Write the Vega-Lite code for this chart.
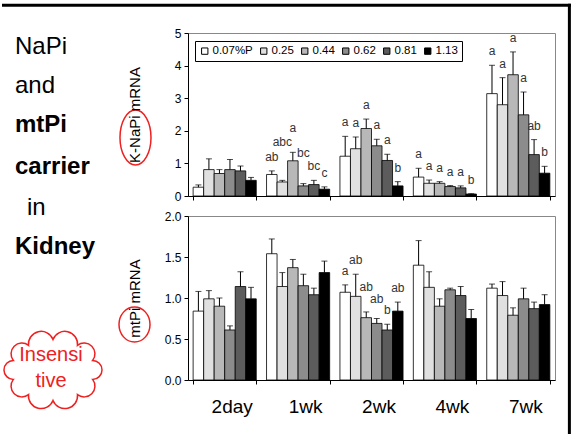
{
  "$schema": "https://vega.github.io/schema/vega-lite/v6.json",
  "padding": 0,
  "bounds": "flush",
  "spacing": 0,
  "config": {
    "font": "Liberation Sans",
    "view": {"stroke": "#888888"},
    "axis": {"domainColor": "black", "tickColor": "black", "labelColor": "black", "titleColor": "black", "grid": false, "tickSize": 4, "labelPadding": 3, "titleFontWeight": "normal", "labelFont": "Liberation Sans", "titleFont": "Liberation Sans"},
    "axisY": {"labelOverlap": false, "labelBound": false, "labelFlush": false},
    "legend": {"labelFont": "Liberation Sans"}
  },
  "datasets": {
    "napi": [
      {"week": "2day", "dose": "0.07%P", "v": 0.27, "err": 0.34, "sig": ""},
      {"week": "2day", "dose": "0.25", "v": 0.81, "err": 1.14, "sig": ""},
      {"week": "2day", "dose": "0.44", "v": 0.69, "err": 0.81, "sig": ""},
      {"week": "2day", "dose": "0.62", "v": 0.81, "err": 1.12, "sig": ""},
      {"week": "2day", "dose": "0.81", "v": 0.77, "err": 0.92, "sig": ""},
      {"week": "2day", "dose": "1.13", "v": 0.48, "err": 0.57, "sig": ""},
      {"week": "1wk", "dose": "0.07%P", "v": 0.66, "err": 0.77, "sig": "ab"},
      {"week": "1wk", "dose": "0.25", "v": 0.43, "err": 0.48, "sig": "abc"},
      {"week": "1wk", "dose": "0.44", "v": 1.08, "err": 1.34, "sig": "a"},
      {"week": "1wk", "dose": "0.62", "v": 0.31, "err": 0.38, "sig": "bc"},
      {"week": "1wk", "dose": "0.81", "v": 0.35, "err": 0.48, "sig": "bc"},
      {"week": "1wk", "dose": "1.13", "v": 0.21, "err": 0.28, "sig": "c"},
      {"week": "2wk", "dose": "0.07%P", "v": 1.22, "err": 1.83, "sig": "a"},
      {"week": "2wk", "dose": "0.25", "v": 1.45, "err": 1.81, "sig": "a"},
      {"week": "2wk", "dose": "0.44", "v": 2.07, "err": 2.36, "sig": "a"},
      {"week": "2wk", "dose": "0.62", "v": 1.54, "err": 1.74, "sig": "a"},
      {"week": "2wk", "dose": "0.81", "v": 1.09, "err": 1.28, "sig": "a"},
      {"week": "2wk", "dose": "1.13", "v": 0.31, "err": 0.44, "sig": "b"},
      {"week": "4wk", "dose": "0.07%P", "v": 0.58, "err": 0.85, "sig": "a"},
      {"week": "4wk", "dose": "0.25", "v": 0.39, "err": 0.49, "sig": "a"},
      {"week": "4wk", "dose": "0.44", "v": 0.39, "err": 0.44, "sig": "a"},
      {"week": "4wk", "dose": "0.62", "v": 0.29, "err": 0.32, "sig": "a"},
      {"week": "4wk", "dose": "0.81", "v": 0.25, "err": 0.31, "sig": "a"},
      {"week": "4wk", "dose": "1.13", "v": 0.06, "err": 0.07, "sig": "b"},
      {"week": "7wk", "dose": "0.07%P", "v": 3.14, "err": 4.01, "sig": "a"},
      {"week": "7wk", "dose": "0.25", "v": 2.8, "err": 3.63, "sig": "a"},
      {"week": "7wk", "dose": "0.44", "v": 3.72, "err": 4.42, "sig": "a"},
      {"week": "7wk", "dose": "0.62", "v": 2.49, "err": 3.19, "sig": "a"},
      {"week": "7wk", "dose": "0.81", "v": 1.27, "err": 1.73, "sig": "ab"},
      {"week": "7wk", "dose": "1.13", "v": 0.7, "err": 0.91, "sig": "b"}
    ],
    "mtpi": [
      {"week": "2day", "dose": "0.07%P", "v": 0.84, "err": 1.08, "sig": ""},
      {"week": "2day", "dose": "0.25", "v": 0.99, "err": 1.09, "sig": ""},
      {"week": "2day", "dose": "0.44", "v": 0.9, "err": 1.0, "sig": ""},
      {"week": "2day", "dose": "0.62", "v": 0.61, "err": 0.66, "sig": ""},
      {"week": "2day", "dose": "0.81", "v": 1.14, "err": 1.32, "sig": ""},
      {"week": "2day", "dose": "1.13", "v": 0.99, "err": 1.13, "sig": ""},
      {"week": "1wk", "dose": "0.07%P", "v": 1.54, "err": 1.72, "sig": ""},
      {"week": "1wk", "dose": "0.25", "v": 1.14, "err": 1.31, "sig": ""},
      {"week": "1wk", "dose": "0.44", "v": 1.37, "err": 1.47, "sig": ""},
      {"week": "1wk", "dose": "0.62", "v": 1.15, "err": 1.29, "sig": ""},
      {"week": "1wk", "dose": "0.81", "v": 1.04, "err": 1.12, "sig": ""},
      {"week": "1wk", "dose": "1.13", "v": 1.31, "err": 1.45, "sig": ""},
      {"week": "2wk", "dose": "0.07%P", "v": 1.07, "err": 1.16, "sig": "a"},
      {"week": "2wk", "dose": "0.25", "v": 1.02, "err": 1.29, "sig": "ab"},
      {"week": "2wk", "dose": "0.44", "v": 0.76, "err": 0.83, "sig": "ab"},
      {"week": "2wk", "dose": "0.62", "v": 0.69, "err": 0.75, "sig": "ab"},
      {"week": "2wk", "dose": "0.81", "v": 0.61, "err": 0.68, "sig": "b"},
      {"week": "2wk", "dose": "1.13", "v": 0.84, "err": 0.95, "sig": "ab"},
      {"week": "4wk", "dose": "0.07%P", "v": 1.4, "err": 1.7, "sig": ""},
      {"week": "4wk", "dose": "0.25", "v": 1.13, "err": 1.32, "sig": ""},
      {"week": "4wk", "dose": "0.44", "v": 0.9, "err": 0.99, "sig": ""},
      {"week": "4wk", "dose": "0.62", "v": 1.1, "err": 1.12, "sig": ""},
      {"week": "4wk", "dose": "0.81", "v": 1.03, "err": 1.14, "sig": ""},
      {"week": "4wk", "dose": "1.13", "v": 0.75, "err": 0.86, "sig": ""},
      {"week": "7wk", "dose": "0.07%P", "v": 1.12, "err": 1.17, "sig": ""},
      {"week": "7wk", "dose": "0.25", "v": 1.03, "err": 1.2, "sig": ""},
      {"week": "7wk", "dose": "0.44", "v": 0.79, "err": 0.88, "sig": ""},
      {"week": "7wk", "dose": "0.62", "v": 0.99, "err": 1.12, "sig": ""},
      {"week": "7wk", "dose": "0.81", "v": 0.87, "err": 0.95, "sig": ""},
      {"week": "7wk", "dose": "1.13", "v": 0.92, "err": 1.04, "sig": ""}
    ]
  },
  "resolve": {"scale": {"x": "independent", "y": "independent"}},
  "hconcat": [
    {
      "width": 186,
      "height": 434,
      "view": {"stroke": null},
      "data": {"values": [{}]},
      "layer": [
        {"mark": {"type": "rule", "strokeWidth": 3, "color": "black"},
         "encoding": {"x": {"datum": 0, "type": "quantitative", "scale": {"domain": [0, 1], "nice": false, "zero": false}, "axis": null}, "x2": {"datum": 3.059},
                      "y": {"datum": 0.0122, "type": "quantitative", "scale": {"domain": [0, 1], "nice": false, "zero": false, "reverse": true}, "axis": null}}},
        {"mark": {"type": "rule", "strokeWidth": 3, "color": "black"},
         "encoding": {"x": {"datum": 3.0505, "type": "quantitative", "scale": {"domain": [0, 1], "nice": false, "zero": false}, "axis": null},
                      "y": {"datum": 0.0088, "type": "quantitative", "scale": {"domain": [0, 1], "nice": false, "zero": false, "reverse": true}, "axis": null}, "y2": {"datum": 1.0}}},
        {"mark": {"type": "text", "text": "NaPi", "fontSize": 24, "align": "left", "baseline": "middle", "color": "black"},
         "encoding": {"x": {"datum": 0.0699, "type": "quantitative", "scale": {"domain": [0, 1], "nice": false, "zero": false}, "axis": null},
                      "y": {"datum": 0.1083, "type": "quantitative", "scale": {"domain": [0, 1], "nice": false, "zero": false, "reverse": true}, "axis": null}}},
        {"mark": {"type": "text", "text": "and", "fontSize": 24, "align": "left", "baseline": "middle", "color": "black"},
         "encoding": {"x": {"datum": 0.0699, "type": "quantitative", "scale": {"domain": [0, 1], "nice": false, "zero": false}, "axis": null},
                      "y": {"datum": 0.1982, "type": "quantitative", "scale": {"domain": [0, 1], "nice": false, "zero": false, "reverse": true}, "axis": null}}},
        {"mark": {"type": "text", "text": "mtPi", "fontSize": 24, "fontWeight": "bold", "align": "left", "baseline": "middle", "color": "black"},
         "encoding": {"x": {"datum": 0.0699, "type": "quantitative", "scale": {"domain": [0, 1], "nice": false, "zero": false}, "axis": null},
                      "y": {"datum": 0.288, "type": "quantitative", "scale": {"domain": [0, 1], "nice": false, "zero": false, "reverse": true}, "axis": null}}},
        {"mark": {"type": "text", "text": "carrier", "fontSize": 24, "fontWeight": "bold", "align": "left", "baseline": "middle", "color": "black"},
         "encoding": {"x": {"datum": 0.0699, "type": "quantitative", "scale": {"domain": [0, 1], "nice": false, "zero": false}, "axis": null},
                      "y": {"datum": 0.3848, "type": "quantitative", "scale": {"domain": [0, 1], "nice": false, "zero": false, "reverse": true}, "axis": null}}},
        {"mark": {"type": "text", "text": "in", "fontSize": 24, "align": "left", "baseline": "middle", "color": "black"},
         "encoding": {"x": {"datum": 0.1344, "type": "quantitative", "scale": {"domain": [0, 1], "nice": false, "zero": false}, "axis": null},
                      "y": {"datum": 0.4793, "type": "quantitative", "scale": {"domain": [0, 1], "nice": false, "zero": false, "reverse": true}, "axis": null}}},
        {"mark": {"type": "text", "text": "Kidney", "fontSize": 24, "fontWeight": "bold", "align": "left", "baseline": "middle", "color": "black"},
         "encoding": {"x": {"datum": 0.0699, "type": "quantitative", "scale": {"domain": [0, 1], "nice": false, "zero": false}, "axis": null},
                      "y": {"datum": 0.5691, "type": "quantitative", "scale": {"domain": [0, 1], "nice": false, "zero": false, "reverse": true}, "axis": null}}},
        {"mark": {"type": "point", "shape": "M0,-0.6A0.25,0.25,0,0,1,0.482,-0.485A0.213,0.213,0,0,1,0.78,-0.185A0.185,0.185,0,0,1,0.78,0.185A0.213,0.213,0,0,1,0.482,0.485A0.25,0.25,0,0,1,0,0.6A0.25,0.25,0,0,1,-0.482,0.485A0.213,0.213,0,0,1,-0.78,0.185A0.185,0.185,0,0,1,-0.78,-0.185A0.213,0.213,0,0,1,-0.482,-0.485A0.25,0.25,0,0,1,0,-0.6Z", "size": 10322, "filled": false, "stroke": "#ee2020", "strokeWidth": 1.5, "opacity": 1},
         "encoding": {"x": {"datum": 0.2742, "type": "quantitative", "scale": {"domain": [0, 1], "nice": false, "zero": false}, "axis": null},
                      "y": {"datum": 0.8525, "type": "quantitative", "scale": {"domain": [0, 1], "nice": false, "zero": false, "reverse": true}, "axis": null}}},
        {"mark": {"type": "text", "text": "Insensi", "fontSize": 20, "align": "center", "baseline": "middle", "color": "#ee2020"},
         "encoding": {"x": {"datum": 0.2634, "type": "quantitative", "scale": {"domain": [0, 1], "nice": false, "zero": false}, "axis": null},
                      "y": {"datum": 0.818, "type": "quantitative", "scale": {"domain": [0, 1], "nice": false, "zero": false, "reverse": true}, "axis": null}}},
        {"mark": {"type": "text", "text": "tive", "fontSize": 20, "align": "center", "baseline": "middle", "color": "#ee2020"},
         "encoding": {"x": {"datum": 0.2634, "type": "quantitative", "scale": {"domain": [0, 1], "nice": false, "zero": false}, "axis": null},
                      "y": {"datum": 0.8779, "type": "quantitative", "scale": {"domain": [0, 1], "nice": false, "zero": false, "reverse": true}, "axis": null}}},
        {"mark": {"type": "point", "shape": "M0,-1A0.564,1,0,1,1,0,1A0.564,1,0,1,1,0,-1Z", "size": 3025, "filled": false, "stroke": "#ee2020", "strokeWidth": 1.5, "opacity": 1},
         "encoding": {"x": {"datum": 0.7177, "type": "quantitative", "scale": {"domain": [0, 1], "nice": false, "zero": false}, "axis": null},
                      "y": {"datum": 0.3168, "type": "quantitative", "scale": {"domain": [0, 1], "nice": false, "zero": false, "reverse": true}, "axis": null}}},
        {"mark": {"type": "point", "shape": "M0,-1A0.886,1,0,1,1,0,1A0.886,1,0,1,1,0,-1Z", "size": 1225, "filled": false, "stroke": "#ee2020", "strokeWidth": 1.5, "opacity": 1},
         "encoding": {"x": {"datum": 0.7124, "type": "quantitative", "scale": {"domain": [0, 1], "nice": false, "zero": false}, "axis": null},
                      "y": {"datum": 0.7477, "type": "quantitative", "scale": {"domain": [0, 1], "nice": false, "zero": false, "reverse": true}, "axis": null}}}
      ]
    },
    {
      "bounds": "flush",
      "spacing": 20,
      "resolve": {"scale": {"fill": "independent", "x": "independent", "y": "independent"}},
      "vconcat": [
        {
          "width": 367,
          "height": 13,
          "view": {"stroke": null},
          "data": {"values": [{}]},
          "mark": {"type": "text", "text": ""}
        },
        {
          "width": 367,
          "height": 163,
          "data": {"name": "napi"},
          "encoding": {
            "x": {"field": "week", "type": "nominal", "sort": ["2day", "1wk", "2wk", "4wk", "7wk"], "scale": {"paddingInner": 0.14, "paddingOuter": 0.07}, "axis": {"title": null, "labels": false, "tickBand": "extent"}},
            "xOffset": {"field": "dose", "type": "nominal", "sort": ["0.07%P", "0.25", "0.44", "0.62", "0.81", "1.13"], "scale": {"paddingInner": 0, "paddingOuter": 0}},
            "y": {"field": "v", "type": "quantitative", "scale": {"domain": [0, 5], "nice": false}, "axis": {"values": [0, 1, 2, 3, 4, 5], "title": "K-NaPi mRNA", "titleX": -54, "titleBaseline": "middle", "titleFontSize": 15, "labelFontSize": 12}}
          },
          "layer": [
            {"mark": {"type": "bar", "stroke": "black", "strokeWidth": 0.8},
             "encoding": {
               "fill": {"field": "dose", "type": "nominal", "sort": ["0.07%P", "0.25", "0.44", "0.62", "0.81", "1.13"], "scale": {"domain": ["0.07%P", "0.25", "0.44", "0.62", "0.81", "1.13"], "range": ["#ffffff", "#e0e0e0", "#b8b8b8", "#8c8c8c", "#5c5c5c", "#000000"]},
                        "legend": {"title": null, "orient": "none", "legendX": 7, "legendY": 8, "direction": "horizontal", "symbolType": "square", "symbolSize": 40, "symbolStrokeColor": "black", "symbolStrokeWidth": 1, "labelFontSize": 11.5, "labelOffset": 2, "columnPadding": 5, "padding": 4, "strokeColor": "black", "fillColor": "white", "labelColor": "black"}}
             }},
            {"mark": {"type": "rule", "color": "black", "strokeWidth": 1},
             "encoding": {"y2": {"field": "err"}}},
            {"mark": {"type": "tick", "color": "black", "size": 6, "thickness": 1},
             "encoding": {"y": {"field": "err", "type": "quantitative"}}},
            {"transform": [{"filter": "!(datum.week == '1wk' && (datum.dose == '0.25' || datum.dose == '0.44' || datum.dose == '0.62'))"}],
             "mark": {"type": "text", "fontSize": 12, "dy": -14, "color": "#333333", "baseline": "middle"},
             "encoding": {"y": {"field": "err", "type": "quantitative"}, "text": {"field": "sig"}}},
            {"transform": [{"filter": "datum.week == '1wk' && datum.dose == '0.44'"}],
             "mark": {"type": "text", "fontSize": 12, "dy": -24, "color": "#333333", "baseline": "middle"},
             "encoding": {"y": {"field": "err", "type": "quantitative"}, "text": {"field": "sig"}}},
            {"transform": [{"filter": "datum.week == '1wk' && datum.dose == '0.62'"}],
             "mark": {"type": "text", "fontSize": 12, "dy": -31, "color": "#333333", "baseline": "middle"},
             "encoding": {"y": {"field": "err", "type": "quantitative"}, "text": {"field": "sig"}}},
            {"transform": [{"filter": "datum.week == '1wk' && datum.dose == '0.25'"}],
             "mark": {"type": "text", "fontSize": 12, "dy": -38, "color": "#333333", "baseline": "middle"},
             "encoding": {"y": {"field": "err", "type": "quantitative"}, "text": {"field": "sig"}}}
          ]
        },
        {
          "width": 367,
          "height": 164,
          "data": {"name": "mtpi"},
          "encoding": {
            "x": {"field": "week", "type": "nominal", "sort": ["2day", "1wk", "2wk", "4wk", "7wk"], "scale": {"paddingInner": 0.14, "paddingOuter": 0.07}, "axis": {"title": null, "tickBand": "extent", "labelAngle": 0, "labelFontSize": 19, "labelPadding": 13, "labelOffset": 7}},
            "xOffset": {"field": "dose", "type": "nominal", "sort": ["0.07%P", "0.25", "0.44", "0.62", "0.81", "1.13"], "scale": {"paddingInner": 0, "paddingOuter": 0}},
            "y": {"field": "v", "type": "quantitative", "scale": {"domain": [0, 2], "nice": false}, "axis": {"values": [0, 0.5, 1, 1.5, 2], "format": ".1f", "title": "mtPi mRNA", "titleX": -54, "titleBaseline": "middle", "titleFontSize": 15, "labelFontSize": 12}}
          },
          "layer": [
            {"mark": {"type": "bar", "stroke": "black", "strokeWidth": 0.8},
             "encoding": {
               "fill": {"field": "dose", "type": "nominal", "sort": ["0.07%P", "0.25", "0.44", "0.62", "0.81", "1.13"], "scale": {"domain": ["0.07%P", "0.25", "0.44", "0.62", "0.81", "1.13"], "range": ["#ffffff", "#e0e0e0", "#b8b8b8", "#8c8c8c", "#5c5c5c", "#000000"]}, "legend": null}
             }},
            {"mark": {"type": "rule", "color": "black", "strokeWidth": 1},
             "encoding": {"y2": {"field": "err"}}},
            {"mark": {"type": "tick", "color": "black", "size": 6, "thickness": 1},
             "encoding": {"y": {"field": "err", "type": "quantitative"}}},
            {"transform": [{"filter": "!(datum.week == '2wk' && (datum.dose == '0.44' || datum.dose == '0.62'))"}],
             "mark": {"type": "text", "fontSize": 12, "dy": -14, "color": "#333333", "baseline": "middle"},
             "encoding": {"y": {"field": "err", "type": "quantitative"}, "text": {"field": "sig"}}},
            {"transform": [{"filter": "datum.week == '2wk' && datum.dose == '0.44'"}],
             "mark": {"type": "text", "fontSize": 12, "dy": -25, "color": "#333333", "baseline": "middle"},
             "encoding": {"y": {"field": "err", "type": "quantitative"}, "text": {"field": "sig"}}},
            {"transform": [{"filter": "datum.week == '2wk' && datum.dose == '0.62'"}],
             "mark": {"type": "text", "fontSize": 12, "dy": -20, "color": "#333333", "baseline": "middle"},
             "encoding": {"y": {"field": "err", "type": "quantitative"}, "text": {"field": "sig"}}}
          ]
        }
      ]
    }
  ]
}
